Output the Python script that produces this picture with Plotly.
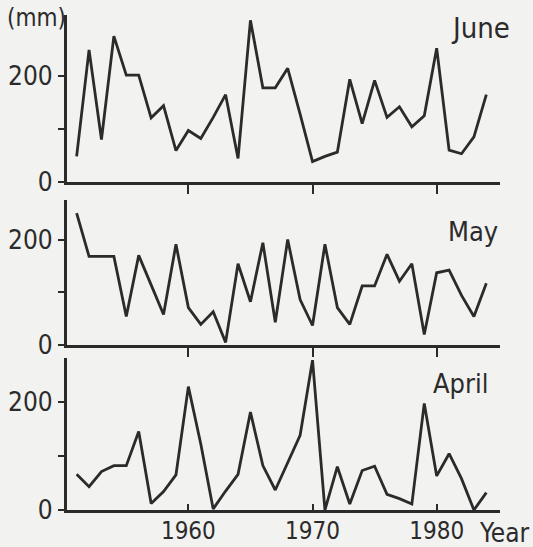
import plotly.graph_objects as go

# ---- data ----
years = list(range(1951, 1985))
june = [48, 250, 80, 276, 202, 202, 121, 144, 59, 97, 82, 122, 165, 44, 306, 178, 178,
        215, 128, 38, 48, 56, 194, 110, 192, 122, 142, 104, 125, 253, 60, 53, 85, 165]
may = [250, 168, 168, 168, 54, 170, 114, 58, 191, 71, 39, 63, 5, 154, 82, 194, 43,
       200, 86, 37, 191, 71, 39, 112, 112, 172, 121, 154, 20, 137, 142, 94, 54, 117]
april = [66, 43, 71, 82, 82, 145, 12, 34, 65, 228, 122, 2, 35, 66, 181, 82, 37,
         88, 138, 277, 0, 80, 11, 73, 81, 29, 21, 11, 197, 63, 104, 58, 0, 32]
panel_names = ["June", "May", "April"]
x_ticks = [1960, 1970, 1980]
y_ticks = [0, 100, 200]
y_ticktext = ["0", "", "200"]

W, H = 533, 547
FONT = "DejaVu Sans Condensed, Liberation Sans Narrow, sans-serif"
INK = "#2b2b2b"
BG = "#f2f2f0"

def py(px):
    return 1 - px / H

x_dom = [66.7 / W, 500 / W]
x_rng = [1950.2, 1985.1]

# (zero pixel, top pixel, top value)
panels = {
    "June": (181.7, 15, 316),
    "May": (345, 200, 275),
    "April": (510, 358, 281),
}

fig = go.Figure()
series = {"June": june, "May": may, "April": april}
axis_ids = {"April": "", "May": "2", "June": "3"}

for name in panel_names:
    aid = axis_ids[name]
    fig.add_trace(go.Scatter(
        x=years, y=series[name], mode="lines",
        line=dict(color=INK, width=2.8),
        xaxis="x" + aid, yaxis="y" + aid, showlegend=False, hoverinfo="skip",
    ))

layout = dict(
    width=W, height=H,
    margin=dict(l=0, r=0, t=0, b=0, autoexpand=False),
    paper_bgcolor=BG, plot_bgcolor=BG,
    font=dict(family=FONT, color=INK, size=26),
    showlegend=False,
)

for name in panel_names:
    aid = axis_ids[name]
    zero_px, top_px, top_val = panels[name]
    bottom = name == "April"
    layout["xaxis" + aid] = dict(
        domain=x_dom, range=x_rng, anchor="y" + aid,
        showline=True, linecolor=INK, linewidth=2.6,
        showgrid=False, zeroline=False,
        tickvals=x_ticks, ticks="inside" if bottom else "outside",
        ticklen=6 if bottom else 9, tickwidth=2.4, tickcolor=INK,
        showticklabels=bottom, ticklabelstandoff=-3 if bottom else 0,
        tickfont=dict(family=FONT, size=24, color=INK),
    )
    layout["yaxis" + aid] = dict(
        domain=[py(zero_px), py(top_px)], range=[0, top_val], anchor="x" + aid,
        showline=True, linecolor=INK, linewidth=2.6,
        showgrid=False, zeroline=False,
        tickvals=y_ticks, ticktext=y_ticktext, ticks="outside",
        ticklen=6, tickwidth=2.4, tickcolor=INK,
        tickfont=dict(family=FONT, size=26, color=INK),
    )

fig.update_layout(**layout)

anns = [
    ("(mm)", 5, 18, 24),
    ("June", 449, 28, 29),
    ("May", 446, 232, 27),
    ("April", 431, 383, 27),
    ("Year", 477, 533, 26),
]
for text, xl, yc, size in anns:
    fig.add_annotation(
        text=text, x=xl / W, y=py(yc), xref="paper", yref="paper",
        xanchor="left", yanchor="middle", showarrow=False,
        font=dict(family=FONT, size=size, color=INK),
    )

fig.write_html(
    "out.html",
    config={"displayModeBar": False},
    post_script="document.body.style.margin='0';document.body.style.background='%s';" % BG,
)
